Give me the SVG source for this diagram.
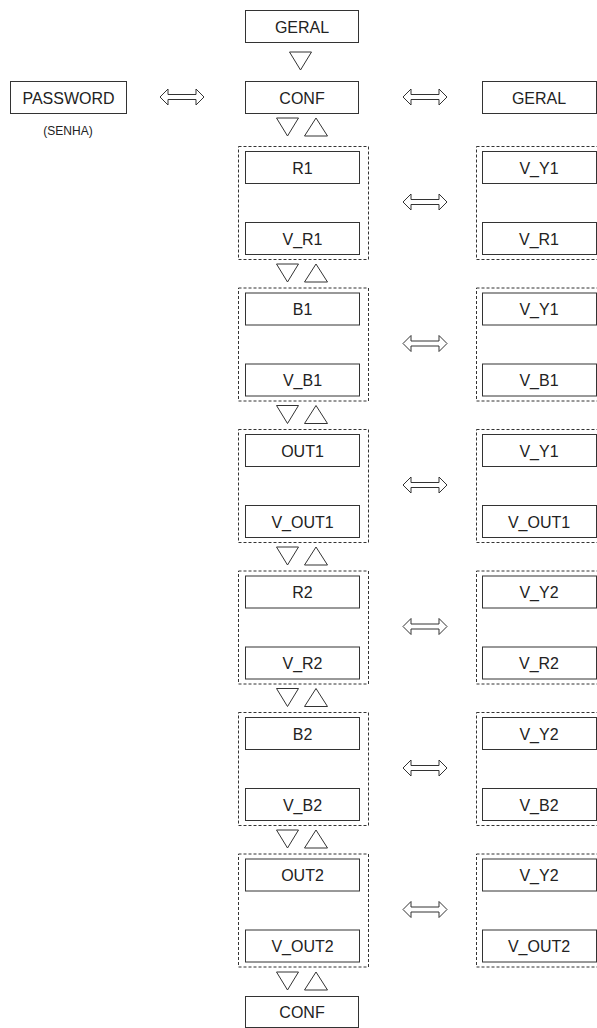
<svg xmlns="http://www.w3.org/2000/svg" width="597" height="1028" viewBox="0 0 597 1028">
<defs>
<style>
.box{fill:#fff;stroke:#333;stroke-width:1}
.grp{fill:none;stroke:#333;stroke-width:1;stroke-dasharray:3 2}
.t{font-family:"Liberation Sans",Arial,sans-serif;font-size:16px;fill:#222;text-anchor:middle}
.s{font-family:"Liberation Sans",Arial,sans-serif;font-size:12px;fill:#222;text-anchor:middle}
.tri{fill:#fff;stroke:#333;stroke-width:1;stroke-linejoin:miter}
.arr{fill:#fff;stroke:#333;stroke-width:1}
</style>
<path id="dbl" class="arr" d="M0,0 L8,-8 L8,-2.5 L36,-2.5 L36,-8 L44,0 L36,8 L36,2.5 L8,2.5 L8,8 Z"/>
<polygon id="dn" class="tri" points="0,-9 22,-9 11,9"/>
<polygon id="up" class="tri" points="0,9 23,9 11.5,-9"/>
<g id="navpair"><use href="#dn" x="276.5"/><use href="#up" x="304.5"/></g>
</defs>

<g id="connectors">
<use href="#dn" x="289.5" y="61"/>
<use href="#dbl" x="160" y="97"/>
<use href="#dbl" x="403" y="97"/>
<use href="#navpair" y="127"/>
<use href="#navpair" y="273"/>
<use href="#navpair" y="414.5"/>
<use href="#navpair" y="556"/>
<use href="#navpair" y="697.5"/>
<use href="#navpair" y="839"/>
<use href="#navpair" y="981"/>
<use href="#dbl" x="403" y="202"/>
<use href="#dbl" x="403" y="343.5"/>
<use href="#dbl" x="403" y="485"/>
<use href="#dbl" x="403" y="626.5"/>
<use href="#dbl" x="403" y="768"/>
<use href="#dbl" x="403" y="909.5"/>
</g>

<g id="geral-top"><rect class="box" x="245.5" y="10.5" width="113" height="32"/><text class="t" x="302" y="32.5">GERAL</text></g>
<g id="password"><rect class="box" x="10.5" y="81.5" width="116" height="32"/><text class="t" x="68.5" y="103.5">PASSWORD</text><text class="s" x="68" y="134.5">(SENHA)</text></g>
<g id="conf-top"><rect class="box" x="245.5" y="81.5" width="113" height="32"/><text class="t" x="302" y="103.5">CONF</text></g>
<g id="geral-right"><rect class="box" x="482.5" y="81.5" width="114" height="32"/><text class="t" x="539" y="103.5">GERAL</text></g>

<g id="g-r1">
<rect class="grp" x="238.5" y="146.5" width="130" height="113"/>
<rect class="box" x="245.5" y="151.5" width="114" height="32"/><text class="t" x="302.5" y="173.5">R1</text>
<rect class="box" x="245.5" y="222.5" width="114" height="32"/><text class="t" x="302.5" y="244.5">V_R1</text>
</g>
<g id="g-r1-right">
<rect class="grp" x="476.5" y="146.5" width="130" height="113"/>
<rect class="box" x="482.5" y="151.5" width="114" height="32"/><text class="t" x="539" y="173.5">V_Y1</text>
<rect class="box" x="482.5" y="222.5" width="114" height="32"/><text class="t" x="539" y="244.5">V_R1</text>
</g>

<g id="g-b1" transform="translate(0,141.5)">
<rect class="grp" x="238.5" y="146.5" width="130" height="113"/>
<rect class="box" x="245.5" y="151.5" width="114" height="32"/><text class="t" x="302.5" y="173.5">B1</text>
<rect class="box" x="245.5" y="222.5" width="114" height="32"/><text class="t" x="302.5" y="244.5">V_B1</text>
</g>
<g id="g-b1-right" transform="translate(0,141.5)">
<rect class="grp" x="476.5" y="146.5" width="130" height="113"/>
<rect class="box" x="482.5" y="151.5" width="114" height="32"/><text class="t" x="539" y="173.5">V_Y1</text>
<rect class="box" x="482.5" y="222.5" width="114" height="32"/><text class="t" x="539" y="244.5">V_B1</text>
</g>

<g id="g-out1" transform="translate(0,283)">
<rect class="grp" x="238.5" y="146.5" width="130" height="113"/>
<rect class="box" x="245.5" y="151.5" width="114" height="32"/><text class="t" x="302.5" y="173.5">OUT1</text>
<rect class="box" x="245.5" y="222.5" width="114" height="32"/><text class="t" x="302.5" y="244.5">V_OUT1</text>
</g>
<g id="g-out1-right" transform="translate(0,283)">
<rect class="grp" x="476.5" y="146.5" width="130" height="113"/>
<rect class="box" x="482.5" y="151.5" width="114" height="32"/><text class="t" x="539" y="173.5">V_Y1</text>
<rect class="box" x="482.5" y="222.5" width="114" height="32"/><text class="t" x="539" y="244.5">V_OUT1</text>
</g>

<g id="g-r2" transform="translate(0,424.5)">
<rect class="grp" x="238.5" y="146.5" width="130" height="113"/>
<rect class="box" x="245.5" y="151.5" width="114" height="32"/><text class="t" x="302.5" y="173.5">R2</text>
<rect class="box" x="245.5" y="222.5" width="114" height="32"/><text class="t" x="302.5" y="244.5">V_R2</text>
</g>
<g id="g-r2-right" transform="translate(0,424.5)">
<rect class="grp" x="476.5" y="146.5" width="130" height="113"/>
<rect class="box" x="482.5" y="151.5" width="114" height="32"/><text class="t" x="539" y="173.5">V_Y2</text>
<rect class="box" x="482.5" y="222.5" width="114" height="32"/><text class="t" x="539" y="244.5">V_R2</text>
</g>

<g id="g-b2" transform="translate(0,566)">
<rect class="grp" x="238.5" y="146.5" width="130" height="113"/>
<rect class="box" x="245.5" y="151.5" width="114" height="32"/><text class="t" x="302.5" y="173.5">B2</text>
<rect class="box" x="245.5" y="222.5" width="114" height="32"/><text class="t" x="302.5" y="244.5">V_B2</text>
</g>
<g id="g-b2-right" transform="translate(0,566)">
<rect class="grp" x="476.5" y="146.5" width="130" height="113"/>
<rect class="box" x="482.5" y="151.5" width="114" height="32"/><text class="t" x="539" y="173.5">V_Y2</text>
<rect class="box" x="482.5" y="222.5" width="114" height="32"/><text class="t" x="539" y="244.5">V_B2</text>
</g>

<g id="g-out2" transform="translate(0,707.5)">
<rect class="grp" x="238.5" y="146.5" width="130" height="113"/>
<rect class="box" x="245.5" y="151.5" width="114" height="32"/><text class="t" x="302.5" y="173.5">OUT2</text>
<rect class="box" x="245.5" y="222.5" width="114" height="32"/><text class="t" x="302.5" y="244.5">V_OUT2</text>
</g>
<g id="g-out2-right" transform="translate(0,707.5)">
<rect class="grp" x="476.5" y="146.5" width="130" height="113"/>
<rect class="box" x="482.5" y="151.5" width="114" height="32"/><text class="t" x="539" y="173.5">V_Y2</text>
<rect class="box" x="482.5" y="222.5" width="114" height="32"/><text class="t" x="539" y="244.5">V_OUT2</text>
</g>

<g id="conf-bottom"><rect class="box" x="245.5" y="996.5" width="113" height="31"/><text class="t" x="302" y="1018">CONF</text></g>
</svg>
